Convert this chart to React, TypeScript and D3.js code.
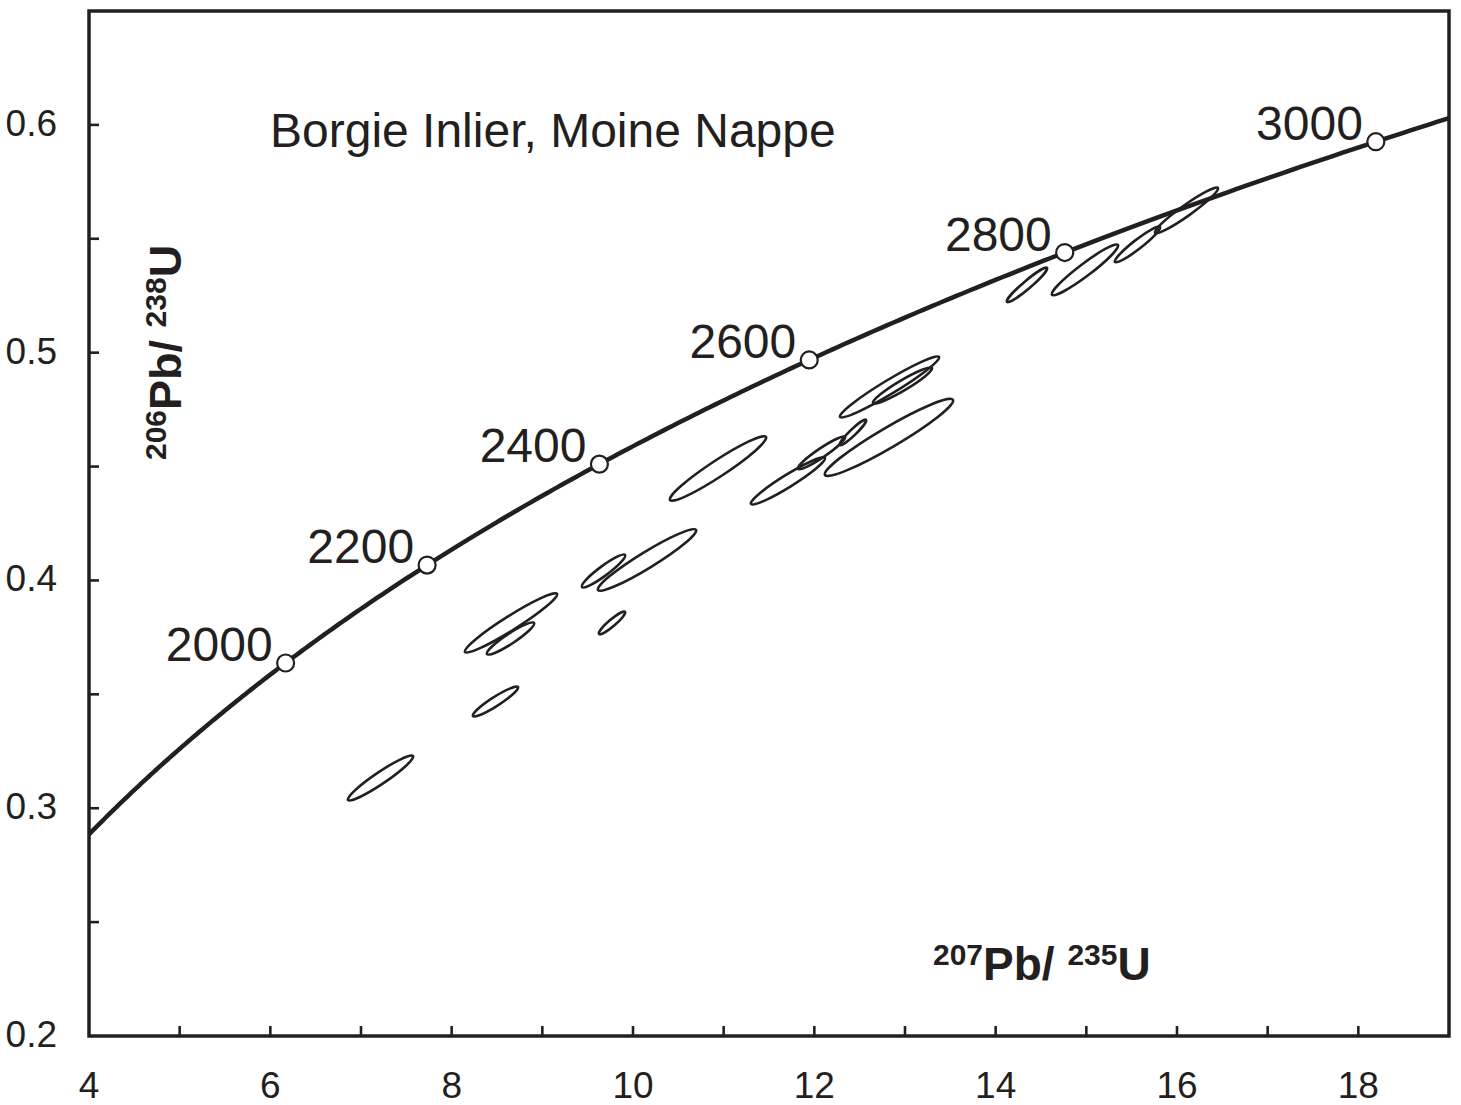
import React from "react";
import * as d3 from "d3";

// ---------- data ----------
const xDomain = [4, 19];
const yDomain = [0.2, 0.65];
const xTickLabels = [4, 6, 8, 10, 12, 14, 16, 18];
const xMinorTicks = [5, 7, 9, 11, 13, 15, 17];
const yTickLabels = [0.2, 0.3, 0.4, 0.5, 0.6];
const yMinorTicks = [0.25, 0.35, 0.45, 0.55];
const markerAges = [2000, 2200, 2400, 2600, 2800, 3000]; // Ma
const lambda238 = 1.55125e-4; // per Ma
const lambda235 = 9.8485e-4; // per Ma
const curveAges = d3.range(1500, 3300, 5);
const title = "Borgie Inlier, Moine Nappe";

// error ellipses: major-axis end points (207Pb/235U, 206Pb/238U) and minor/major ratio
const ellX1 = [6.857, 8.235, 8.147, 8.39, 9.437, 9.614, 9.625, 10.408, 11.301, 11.82, 12.283, 12.117, 12.283, 12.647, 14.125, 14.621, 15.316, 15.757];
const ellY1 = [0.3036, 0.3405, 0.3686, 0.3677, 0.3971, 0.3958, 0.3765, 0.4353, 0.4336, 0.449, 0.4595, 0.4463, 0.4718, 0.4779, 0.5223, 0.5254, 0.5398, 0.5526];
const ellX2 = [7.573, 8.731, 9.162, 8.908, 9.912, 10.695, 9.912, 11.467, 12.117, 12.338, 12.57, 13.529, 13.375, 13.298, 14.566, 15.349, 15.812, 16.452];
const ellY2 = [0.3229, 0.3532, 0.3941, 0.3813, 0.4112, 0.4222, 0.3862, 0.463, 0.4538, 0.463, 0.4705, 0.4793, 0.4981, 0.4933, 0.5372, 0.5473, 0.5552, 0.5723];
const ellRatio = [0.15, 0.17, 0.13, 0.18, 0.18, 0.14, 0.2, 0.14, 0.14, 0.16, 0.17, 0.135, 0.12, 0.15, 0.15, 0.15, 0.16, 0.14];

// ---------- layout ----------
const W = 1461;
const H = 1105;
const L = 89, R = 1449, T = 11, B = 1036;
const INK = "#231f20";
const FONT = "'Liberation Sans', Arial, Helvetica, sans-serif";

const x = d3.scaleLinear().domain(xDomain).range([L, R]);
const y = d3.scaleLinear().domain(yDomain).range([B, T]);

const r206 = (t: number) => Math.exp(lambda238 * t) - 1;
const r207 = (t: number) => Math.exp(lambda235 * t) - 1;

export default function App() {
  const line = d3
    .line<number>()
    .x((t) => x(r207(t)))
    .y((t) => y(r206(t)))
    .curve(d3.curveLinear);

  const ellipses = ellX1.map((_, i) => {
    const ax = x(ellX1[i]), ay = y(ellY1[i]);
    const bx = x(ellX2[i]), by = y(ellY2[i]);
    const cx = (ax + bx) / 2, cy = (ay + by) / 2;
    const rx = Math.hypot(bx - ax, by - ay) / 2;
    const ang = (Math.atan2(by - ay, bx - ax) * 180) / Math.PI;
    return (
      <ellipse
        key={i}
        cx={0}
        cy={0}
        rx={rx}
        ry={rx * ellRatio[i]}
        transform={`translate(${cx},${cy}) rotate(${ang})`}
        fill="none"
        stroke={INK}
        strokeWidth={2.6}
      />
    );
  });

  return (
    <div style={{ position: "absolute", left: 0, top: 0 }}>
      <svg width={W} height={H} style={{ display: "block", background: "#fff" }} fontFamily={FONT}>
        <defs>
          <clipPath id="plotClip">
            <rect x={L} y={T} width={R - L} height={B - T} />
          </clipPath>
        </defs>

        {/* ellipses */}
        <g clipPath="url(#plotClip)">{ellipses}</g>

        {/* concordia */}
        <path d={line(curveAges) || ""} fill="none" stroke={INK} strokeWidth={4.5} clipPath="url(#plotClip)" />

        {/* age markers */}
        {markerAges.map((t) => {
          const px = x(r207(t)), py = y(r206(t));
          return (
            <g key={t}>
              <circle cx={px} cy={py} r={8.5} fill="#fff" stroke={INK} strokeWidth={2.2} />
              <text x={px - 13} y={py - 2} textAnchor="end" fontSize={48} fill={INK}>
                {t}
              </text>
            </g>
          );
        })}

        {/* frame */}
        <rect x={L} y={T} width={R - L} height={B - T} fill="none" stroke={INK} strokeWidth={3.5} />

        {/* x ticks */}
        {[...xTickLabels, ...xMinorTicks].filter((v) => v > xDomain[0]).map((v) => (
          <line key={"xt" + v} x1={x(v)} x2={x(v)} y1={B} y2={B - 10} stroke={INK} strokeWidth={2.6} />
        ))}
        {xTickLabels.map((v) => (
          <text key={"xl" + v} x={x(v)} y={B + 62} textAnchor="middle" fontSize={37} fill={INK}>
            {v}
          </text>
        ))}

        {/* y ticks */}
        {[...yTickLabels, ...yMinorTicks].filter((v) => v > yDomain[0]).map((v) => (
          <line key={"yt" + v} x1={L} x2={L + 10} y1={y(v)} y2={y(v)} stroke={INK} strokeWidth={2.6} />
        ))}
        {yTickLabels.map((v) => (
          <text key={"yl" + v} x={57} y={y(v) + 11} textAnchor="end" fontSize={37} fill={INK}>
            {d3.format(".1f")(v)}
          </text>
        ))}

        {/* title */}
        <text x={270} y={147} fontSize={48} fill={INK}>
          {title}
        </text>

        {/* x axis title */}
        <text x={933} y={980} fontWeight="bold" fill={INK}>
          <tspan fontSize={30} dy={-15}>207</tspan>
          <tspan fontSize={46} dy={15}>Pb/ </tspan>
          <tspan fontSize={30} dy={-15}>235</tspan>
          <tspan fontSize={46} dy={15}>U</tspan>
        </text>

        {/* y axis title */}
        <text transform="translate(181,460) rotate(-90)" fontWeight="bold" fill={INK}>
          <tspan fontSize={30} dy={-15}>206</tspan>
          <tspan fontSize={45} dy={15}>Pb/ </tspan>
          <tspan fontSize={30} dy={-15}>238</tspan>
          <tspan fontSize={45} dy={15}>U</tspan>
        </text>
      </svg>
    </div>
  );
}
